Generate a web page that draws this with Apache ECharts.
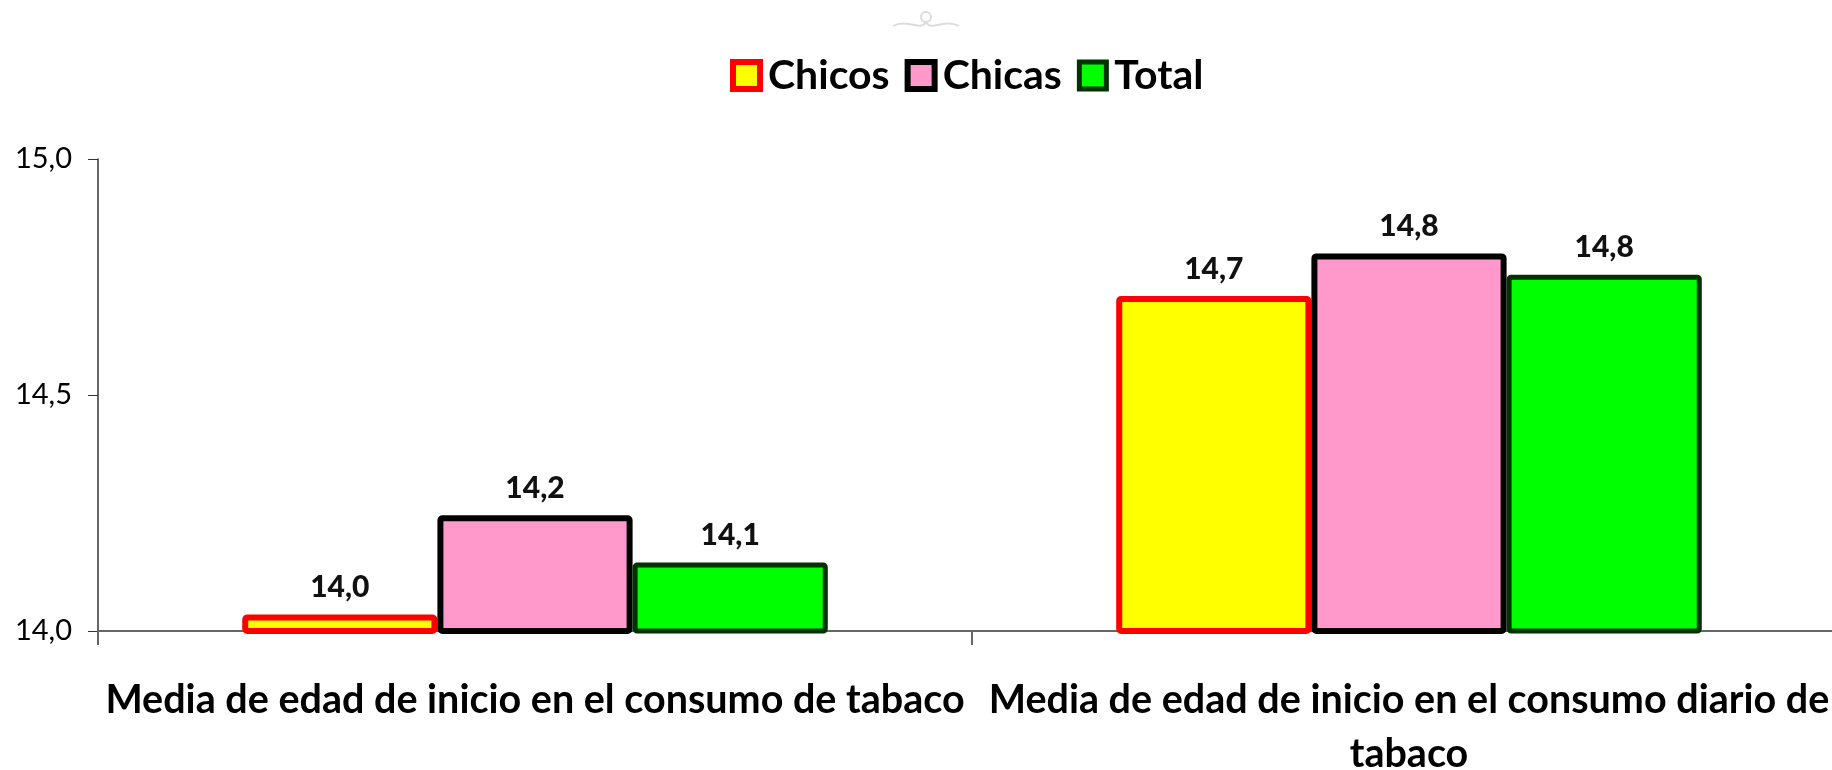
<!DOCTYPE html>
<html>
<head>
<meta charset="utf-8">
<script src="https://cdn.jsdelivr.net/npm/echarts@6/dist/echarts.min.js"></script>
<style>
  html, body { margin: 0; padding: 0; background: #fff; }
  #chart { width: 1832px; height: 770px; }
</style>
</head>
<body>
<div id="chart"></div>
<script>
// datos del gráfico
const categories = [
  'Media de edad de inicio en el consumo de tabaco',
  'Media de edad de inicio en el consumo diario de\ntabaco'
];
const seriesNames = ['Chicos', 'Chicas', 'Total'];
const chicos = [14.035, 14.71];
const chicas = [14.245, 14.80];
const total = [14.145, 14.755];

// formato con coma decimal (redondeo a una cifra)
const fmt = v => (Math.round(v * 10 + 1e-6) / 10).toFixed(1).replace('.', ',');

const chart = echarts.init(document.getElementById('chart'));

const styles = [
  { fill: '#ffff00', border: '#ff0000', width: 6 },
  { fill: '#ff99cc', border: '#000000', width: 6 },
  { fill: '#00ff00', border: '#003300', width: 5 }
];

const makeSeries = (name, data, st) => ({
  name,
  type: 'bar',
  data,
  barGap: '0%',
  barCategoryGap: '33%',
  itemStyle: {
    color: st.fill,
    borderColor: st.border,
    borderWidth: st.width,
    borderRadius: 2
  },
  label: {
    show: true,
    position: 'top',
    distance: 12,
    fontFamily: 'Lato',
    fontWeight: 900,
    fontSize: 30,
    color: '#111',
    formatter: p => fmt(p.value)
  }
});

// adorno gris claro arriba
const ornStyle = { fill: 'none', stroke: '#dcdcdc', lineWidth: 2 };

const option = {
  backgroundColor: '#ffffff',
  animation: false,
  graphic: [
    { type: 'circle', x: 926, y: 17, shape: { cx: 0, cy: 0, r: 5 }, style: ornStyle, silent: true },
    { type: 'bezierCurve', x: 893, y: 10, shape: { x1: 0, y1: 16, x2: 33, y2: 12, cpx1: 14, cpy1: 8, cpx2: 28, cpy2: 22 }, style: ornStyle, silent: true },
    { type: 'bezierCurve', x: 893, y: 10, shape: { x1: 33, y1: 12, x2: 66, y2: 16, cpx1: 38, cpy1: 22, cpx2: 52, cpy2: 8 }, style: ornStyle, silent: true }
  ],
  legend: {
    top: 50,
    left: 725,
    itemWidth: 27,
    itemHeight: 27,
    itemGap: 15,
    icon: 'rect',
    itemStyle: { borderWidth: 'inherit' },
    textStyle: {
      fontFamily: 'Lato',
      fontWeight: 'bold',
      fontSize: 41,
      color: '#000',
      padding: [0, 0, 0, 3]
    },
    data: seriesNames
  },
  grid: {
    left: 98,
    top: 159,
    width: 1748,
    bottom: 139,
    outerBoundsMode: 'none',
    containLabel: false
  },
  xAxis: {
    type: 'category',
    data: categories,
    axisLine: { lineStyle: { color: '#666', width: 2 } },
    axisTick: { show: true, length: 14, lineStyle: { color: '#666', width: 2 } },
    axisLabel: {
      interval: 0,
      margin: 42,
      fontFamily: 'Lato',
      fontWeight: 'bold',
      fontSize: 39.5,
      lineHeight: 54,
      color: '#000'
    }
  },
  yAxis: {
    type: 'value',
    min: 14,
    max: 15,
    interval: 0.5,
    axisLine: { show: true, lineStyle: { color: '#333', width: 1.5 } },
    axisTick: { show: true, length: 10, lineStyle: { color: '#333' } },
    axisLabel: {
      margin: 26,
      fontFamily: 'Lato',
      fontSize: 29,
      color: '#000',
      formatter: v => v.toFixed(1).replace('.', ',')
    },
    splitLine: {
      lineStyle: { color: ['#c8c8c8', '#cccccc', '#b8b8b8'], width: [1, 1, 2] }
    }
  },
  series: [
    makeSeries(seriesNames[0], chicos, styles[0]),
    makeSeries(seriesNames[1], chicas, styles[1]),
    makeSeries(seriesNames[2], total, styles[2])
  ]
};

chart.setOption(option);
</script>
</body>
</html>
